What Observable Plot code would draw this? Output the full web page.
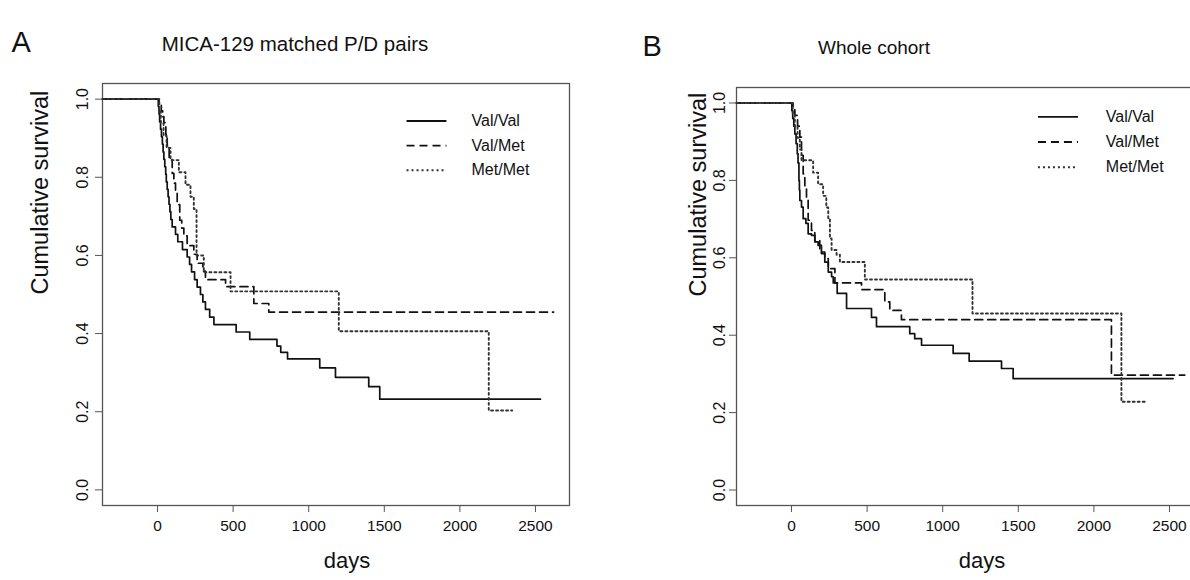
<!DOCTYPE html>
<html><head><meta charset="utf-8">
<script src="https://cdn.jsdelivr.net/npm/d3@7"></script>
<script src="https://cdn.jsdelivr.net/npm/@observablehq/plot@0.6"></script>
<style>
html,body{margin:0;padding:0;background:#fff;}
#wrap{position:relative;width:1190px;height:580px;overflow:hidden;background:#fff;}
#wrap svg{position:absolute;top:0;}
</style></head><body><div id="wrap"></div>
<script>
// ---- data ----
const groups = ["Val/Val", "Val/Met", "Met/Met"];
const xTicks = [0, 500, 1000, 1500, 2000, 2500];
const yTicks = [0, 0.2, 0.4, 0.6, 0.8, 1.0];

// Panel A: MICA-129 matched P/D pairs  ([day, cumulative survival])
const aValVal = [[-364,1],[5,0.981],[10,0.962],[14,0.942],[20,0.923],[26,0.904],[32,0.885],[37,0.865],[42,0.846],[48,0.827],[54,0.808],[58,0.788],[64,0.769],[70,0.75],[76,0.731],[82,0.712],[88,0.692],[97,0.673],[119,0.654],[134,0.635],[165,0.615],[196,0.596],[212,0.577],[225,0.558],[245,0.538],[262,0.519],[284,0.5],[300,0.481],[317,0.462],[345,0.442],[373,0.423],[520,0.404],[610,0.385],[790,0.368],[815,0.352],[860,0.335],[1073,0.312],[1177,0.288],[1397,0.264],[1470,0.232],[2533,0.232]];
const aValMet = [[-364,1],[10,0.985],[25,0.97],[34,0.955],[42,0.94],[55,0.91],[64,0.88],[77,0.845],[97,0.81],[108,0.785],[119,0.76],[130,0.73],[147,0.69],[160,0.67],[174,0.65],[196,0.625],[240,0.603],[262,0.58],[300,0.56],[317,0.538],[450,0.52],[637,0.477],[736,0.455],[2620,0.455]];
const aMetMet = [[-364,1],[12,0.969],[22,0.938],[40,0.906],[60,0.875],[86,0.844],[141,0.813],[185,0.781],[218,0.75],[240,0.719],[258,0.6],[306,0.557],[483,0.508],[1199,0.406],[2191,0.203],[2346,0.203]];

// Panel B: Whole cohort
const bValVal = [[-364,1],[2,0.98],[8,0.96],[15,0.94],[22,0.92],[30,0.895],[38,0.869],[43,0.845],[49,0.8],[52,0.775],[55,0.748],[66,0.731],[77,0.701],[95,0.689],[110,0.662],[132,0.658],[154,0.641],[176,0.632],[198,0.611],[220,0.589],[243,0.563],[265,0.551],[276,0.535],[302,0.508],[364,0.469],[529,0.446],[562,0.422],[782,0.404],[815,0.391],[860,0.374],[1069,0.353],[1175,0.333],[1389,0.314],[1466,0.288],[2524,0.288]];
const bValMet = [[-364,1],[10,0.985],[22,0.968],[40,0.94],[55,0.912],[66,0.865],[77,0.817],[88,0.785],[99,0.752],[110,0.697],[132,0.671],[154,0.645],[187,0.615],[220,0.598],[243,0.572],[287,0.535],[463,0.518],[617,0.486],[650,0.464],[727,0.44],[2116,0.297],[2601,0.297]];
const bMetMet = [[-364,1],[8,0.97],[22,0.94],[40,0.91],[55,0.88],[66,0.852],[143,0.82],[176,0.79],[209,0.76],[230,0.73],[243,0.7],[254,0.65],[265,0.62],[298,0.608],[320,0.589],[485,0.544],[1197,0.456],[2182,0.228],[2348,0.228]];

// ---- styles ----
const FONT = '"Liberation Sans", Arial, Helvetica, sans-serif';
const lineStyle = {
  "Val/Val": {stroke: "#111", strokeWidth: 1.7, strokeDasharray: null},
  "Val/Met": {stroke: "#111", strokeWidth: 1.7, strokeDasharray: "8,5"},
  "Met/Met": {stroke: "#333", strokeWidth: 1.9, strokeDasharray: "2,3"}
};

function panel(cfg) {
  const rows = cfg.series.flatMap((pts, i) => pts.map(([t, s]) => ({group: groups[i], t, s})));
  const legendRows = groups.map((g, i) => ({group: g, y: cfg.legend.y - i * cfg.legend.step}));
  const marks = [Plot.frame({stroke: "#555", strokeWidth: 1.3})];
  for (const g of groups) {
    const st = lineStyle[g];
    marks.push(Plot.line(rows.filter(d => d.group === g), {x: "t", y: "s", curve: "step-after", ...st}));
    marks.push(Plot.link(legendRows.filter(d => d.group === g), {x1: () => cfg.legend.x1, x2: () => cfg.legend.x2, y1: "y", y2: "y", ...st, strokeWidth: st.strokeWidth + 0.2}));
  }
  marks.push(Plot.text(legendRows, {x: () => cfg.legend.tx, y: "y", text: "group", textAnchor: "start", fontSize: 16, fill: "#111"}));
  marks.push(Plot.axisX(xTicks, {tickSize: 7, tickPadding: 7, tickFormat: d3.format("d"), fontSize: 15.5, stroke: "#555", fill: "#111", label: null}));
  marks.push(Plot.axisY(yTicks, {tickSize: 7, tickPadding: cfg.yTickPad, tickRotate: -90, tickFormat: d3.format(".1f"), fontSize: 16, stroke: "#555", fill: "#111", label: null}));
  marks.push(Plot.text([cfg.title], {text: d => d, frameAnchor: "top", dx: cfg.titleDx, dy: -47, fontSize: cfg.titleSize, fill: "#111"}));
  marks.push(Plot.text([cfg.letter], {text: d => d, frameAnchor: "top-left", dx: cfg.letterDx, dy: -52, fontSize: 29, fill: "#111"}));
  marks.push(Plot.text(["Cumulative survival"], {text: d => d, frameAnchor: "left", dx: cfg.yLabelDx, rotate: -90, fontSize: 23.5, fill: "#111"}));
  marks.push(Plot.text(["days"], {text: d => d, frameAnchor: "bottom", dx: cfg.daysDx, dy: 62, fontSize: 22, fill: "#111"}));
  const svg = Plot.plot({
    width: cfg.width, height: 580,
    marginLeft: cfg.marginLeft, marginRight: cfg.marginRight, marginTop: cfg.marginTop, marginBottom: 75,
    style: {fontFamily: FONT, background: "transparent", overflow: "visible"},
    x: {domain: [-364, 2725], axis: null},
    y: {domain: [-0.04, 1.04], axis: null},
    marks
  });
  svg.style.left = cfg.left + "px";
  return svg;
}

const wrap = document.getElementById("wrap");
wrap.appendChild(panel({
  series: [aValVal, aValMet, aMetMet], title: "MICA-129 matched P/D pairs", letter: "A",
  width: 595, left: 0, marginLeft: 102, marginRight: 26, marginTop: 83,
  legend: {x1: 1647, x2: 1911, tx: 2077, y: 0.944, step: 0.063},
  titleDx: -41, titleSize: 20.5, letterDx: -91, yLabelDx: -62, daysDx: 11, yTickPad: 8
}));
wrap.appendChild(panel({
  series: [bValVal, bValMet, bMetMet], title: "Whole cohort", letter: "B",
  width: 620, left: 595, marginLeft: 141, marginRight: 12, marginTop: 87,
  legend: {x1: 1630, x2: 1895, tx: 2079, y: 0.964, step: 0.065},
  titleDx: -96, titleSize: 19, letterDx: -94, yLabelDx: -38, daysDx: 12, yTickPad: 5
}));
</script></body></html>
